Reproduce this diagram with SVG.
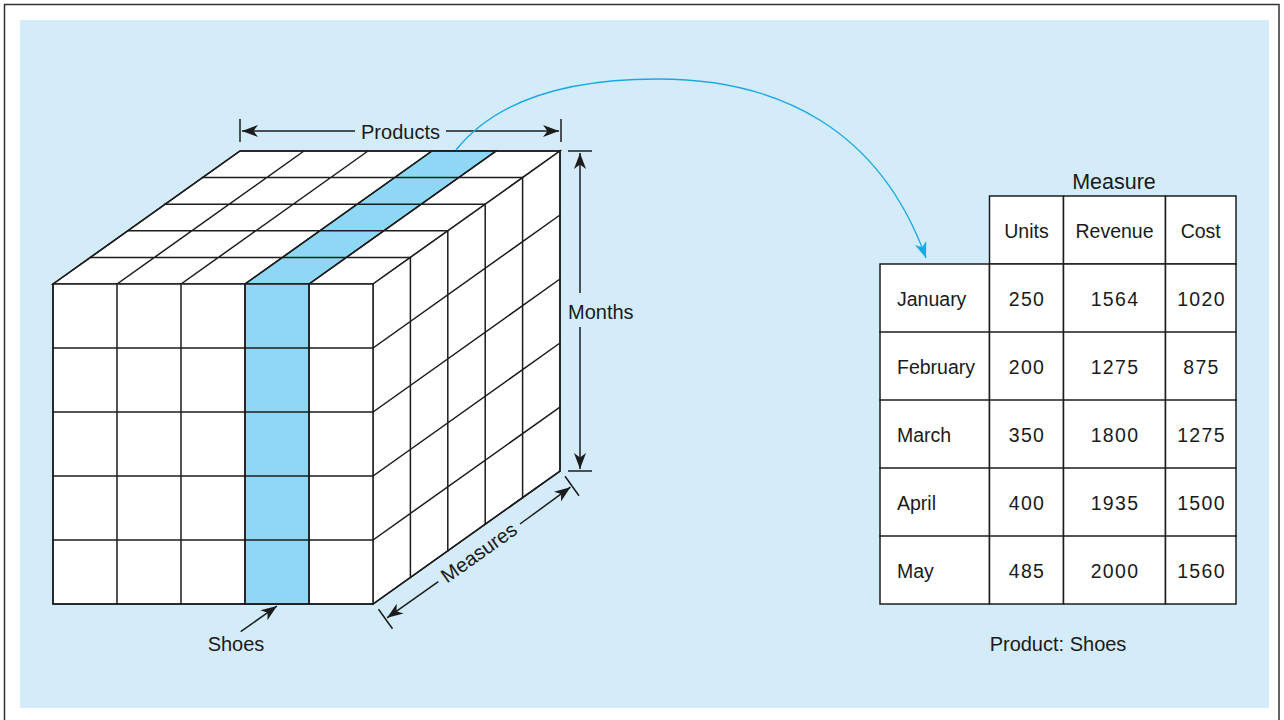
<svg xmlns="http://www.w3.org/2000/svg" width="1284" height="720" viewBox="0 0 1284 720">
  <style>
    .ln { stroke: #1c1c1c; stroke-width: 1.5; fill: none; stroke-linecap: square; }
    .face { fill: #ffffff; stroke: #1c1c1c; stroke-width: 1.5; stroke-linejoin: miter; }
    .hl { fill: #8ed8f6; stroke: #1c1c1c; stroke-width: 1.5; }
    .cell { fill: #ffffff; stroke: #1c1c1c; stroke-width: 1.5; }
    .txt { font-family: "Liberation Sans", Arial, Helvetica, sans-serif; font-size: 20px; fill: #1a1a1a; }
    .tt { font-family: "Liberation Sans", Arial, Helvetica, sans-serif; font-size: 19.5px; fill: #1a1a1a; }
    .num { font-family: "Liberation Sans", Arial, Helvetica, sans-serif; font-size: 19.5px; fill: #1a1a1a; letter-spacing: 1.3px; text-anchor: middle; }
    .mid { text-anchor: middle; }
    .dim { stroke: #1c1c1c; stroke-width: 1.5; fill: none; }
    .dimA { stroke: #1c1c1c; stroke-width: 1.5; fill: none; marker-end: url(#arrB); }
    .curve { stroke: #1aa9e6; stroke-width: 1.4; fill: none; marker-end: url(#arrC); }
  </style>
  <defs>
    <marker id="arrB" markerUnits="userSpaceOnUse" viewBox="-17 -7 18 14" markerWidth="18" markerHeight="14" refX="0" refY="0" orient="auto">
      <path d="M0,0 L-16,-6 L-11.5,0 L-16,6 Z" fill="#1c1c1c"/>
    </marker>
    <marker id="arrC" markerUnits="userSpaceOnUse" viewBox="-17 -7 18 14" markerWidth="18" markerHeight="14" refX="0" refY="0" orient="auto">
      <path d="M0,0 L-16,-6 L-11.5,0 L-16,6 Z" fill="#1aa9e6"/>
    </marker>
  </defs>

  <!-- frame -->
  <rect x="4.5" y="4.5" width="1274.5" height="730" fill="#ffffff" stroke="#333333" stroke-width="1.5"/>
  <rect x="20" y="20" width="1249" height="688" fill="#d4ecf9"/>

  <!-- cube -->
  <g id="cube">
    <polygon class="face" points="53,284 240,151 560,151 373,284"/>
    <polygon class="hl" points="245,284 309,284 496,151 432,151"/>
    <path class="ln" d="M90.4,257.4 H410.4 M127.8,230.8 H447.8 M165.2,204.2 H485.2 M202.6,177.6 H522.6 M117,284 L304,151 M181,284 L368,151 M245,284 L432,151 M309,284 L496,151"/>
    <polygon class="face" points="373,284 560,151 560,471 373,604"/>
    <path class="ln" d="M410.4,257.4 V577.4 M447.8,230.8 V550.8 M485.2,204.2 V524.2 M522.6,177.6 V497.6 M373,348 L560,215 M373,412 L560,279 M373,476 L560,343 M373,540 L560,407"/>
    <rect class="face" x="53" y="284" width="320" height="320"/>
    <rect class="hl" x="245" y="284" width="64" height="320"/>
    <path class="ln" d="M117,284 V604 M181,284 V604 M245,284 V604 M309,284 V604 M53,348 H373 M53,412 H373 M53,476 H373 M53,540 H373"/>
    <polygon points="53,284 240,151 560,151 560,471 373,604 53,604" fill="none" stroke="#1c1c1c" stroke-width="1.5"/>
  </g>

  <!-- table -->
  <g id="table">
    <text class="txt mid" x="1114" y="189" style="font-size:21.5px">Measure</text>
    <rect class="cell" x="989.5" y="196" width="74" height="68"/>
    <rect class="cell" x="1063.5" y="196" width="102" height="68"/>
    <rect class="cell" x="1165.5" y="196" width="70.5" height="68"/>
    <text class="tt mid" x="1026.5" y="238">Units</text>
    <text class="tt mid" x="1114.5" y="238">Revenue</text>
    <text class="tt mid" x="1200.75" y="238">Cost</text>

    <g id="rows">
      <rect class="cell" x="880" y="264" width="109.5" height="340"/>
      <rect class="cell" x="989.5" y="264" width="74" height="340"/>
      <rect class="cell" x="1063.5" y="264" width="102" height="340"/>
      <rect class="cell" x="1165.5" y="264" width="70.5" height="340"/>
      <path class="ln" d="M880,332 H1236 M880,400 H1236 M880,468 H1236 M880,536 H1236"/>

      <text class="tt" x="897" y="306">January</text>
      <text class="num" x="1027" y="306">250</text>
      <text class="num" x="1115" y="306">1564</text>
      <text class="num" x="1201.5" y="306">1020</text>

      <text class="tt" x="897" y="374">February</text>
      <text class="num" x="1027" y="374">200</text>
      <text class="num" x="1115" y="374">1275</text>
      <text class="num" x="1201.5" y="374">875</text>

      <text class="tt" x="897" y="442">March</text>
      <text class="num" x="1027" y="442">350</text>
      <text class="num" x="1115" y="442">1800</text>
      <text class="num" x="1201.5" y="442">1275</text>

      <text class="tt" x="897" y="510">April</text>
      <text class="num" x="1027" y="510">400</text>
      <text class="num" x="1115" y="510">1935</text>
      <text class="num" x="1201.5" y="510">1500</text>

      <text class="tt" x="897" y="578">May</text>
      <text class="num" x="1027" y="578">485</text>
      <text class="num" x="1115" y="578">2000</text>
      <text class="num" x="1201.5" y="578">1560</text>
    </g>
    <text class="txt mid" x="1058" y="651">Product: Shoes</text>
  </g>

  <!-- labels -->
  <g id="labels">
    <text class="txt mid" x="400.5" y="139">Products</text>
    <text class="txt" x="568" y="319">Months</text>
    <text class="txt mid" transform="translate(478.8,552.5) rotate(-35.42)" x="0" y="7">Measures</text>
    <text class="txt mid" x="236" y="651">Shoes</text>
  </g>

  <!-- connectors -->
  <g id="connectors">
    <path class="dim" d="M240,119 V142 M561,119 V142"/>
    <path class="dimA" d="M355,131 H242"/>
    <path class="dimA" d="M446,131 H559"/>
    <path class="dim" d="M568,151 H592 M568,471 H592"/>
    <path class="dimA" d="M580,293 V153"/>
    <path class="dimA" d="M580,327 V469"/>
    <path class="dim" d="M565,476.2 L579,495.8 M378.5,609.2 L392.5,628.8"/>
    <path class="dimA" d="M520,524 L570.4,487.2"/>
    <path class="dimA" d="M438.3,581.7 L387.1,617.8"/>
    <path class="dimA" d="M240.7,631.7 L277,606"/>
    <path class="curve" d="M456,150 C500,95 580,79 658,79 C780,79 880,130 926,258"/>
  </g>
</svg>
